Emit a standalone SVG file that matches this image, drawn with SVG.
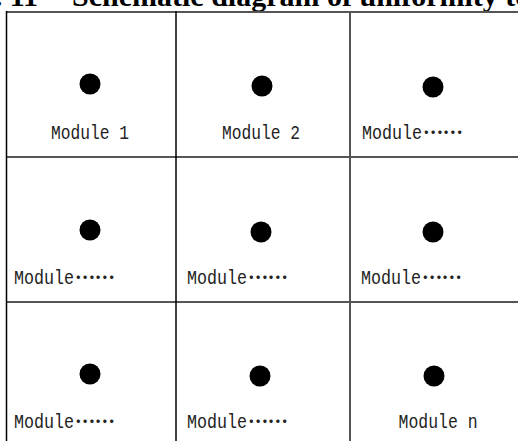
<svg xmlns="http://www.w3.org/2000/svg" width="518" height="441" viewBox="0 0 518 441">
<style>
.title{font-family:"Liberation Serif",serif;font-weight:bold;font-size:30px;fill:#000}
.lbl{font-family:"Liberation Mono",monospace;font-size:20px;fill:#222}
.c{text-anchor:middle}
.dots{font-family:"Noto Sans CJK SC",sans-serif;font-size:18px;font-weight:bold}
.dot{fill:#000}
.vb{stroke:#000;stroke-width:1.5;fill:none}
.gl{stroke:#555;stroke-width:2;fill:none}
</style>
<rect width="518" height="441" fill="#fff"/>
<text class="title" x="38" y="5.5" text-anchor="end">Fig. 11</text>
<text class="title" x="72" y="5.5">Schematic diagram of uniformity test</text>
<g id="grid">
<line class="gl" x1="6" y1="12" x2="518" y2="12"/>
<line class="gl" x1="6" y1="157" x2="518" y2="157"/>
<line class="gl" x1="6" y1="302" x2="518" y2="302"/>
<line class="vb" x1="6.5" y1="11" x2="6.5" y2="441"/>
<line class="vb" x1="176" y1="11" x2="176" y2="441"/>
<line class="gl" x1="350" y1="11" x2="350" y2="441"/>
</g>
<g id="m1"><circle class="dot" cx="90" cy="84" r="10.5"/><text class="lbl c" x="90" y="139" textLength="78" lengthAdjust="spacingAndGlyphs">Module 1</text></g>
<g id="m2"><circle class="dot" cx="262" cy="86" r="10.5"/><text class="lbl c" x="261" y="139" textLength="78" lengthAdjust="spacingAndGlyphs">Module 2</text></g>
<g id="m3"><circle class="dot" cx="433" cy="87" r="10.5"/><text class="lbl" x="362" y="139"><tspan textLength="60" lengthAdjust="spacingAndGlyphs">Module</tspan><tspan class="dots" dx="1" dy="-5">……</tspan></text></g>
<g id="m4"><circle class="dot" cx="90" cy="230" r="10.5"/><text class="lbl" x="14" y="284"><tspan textLength="60" lengthAdjust="spacingAndGlyphs">Module</tspan><tspan class="dots" dx="1" dy="-5">……</tspan></text></g>
<g id="m5"><circle class="dot" cx="261" cy="232" r="10.5"/><text class="lbl" x="187" y="284"><tspan textLength="60" lengthAdjust="spacingAndGlyphs">Module</tspan><tspan class="dots" dx="1" dy="-5">……</tspan></text></g>
<g id="m6"><circle class="dot" cx="433" cy="232" r="10.5"/><text class="lbl" x="361" y="284"><tspan textLength="60" lengthAdjust="spacingAndGlyphs">Module</tspan><tspan class="dots" dx="1" dy="-5">……</tspan></text></g>
<g id="m7"><circle class="dot" cx="90" cy="374" r="10.5"/><text class="lbl" x="14" y="428"><tspan textLength="60" lengthAdjust="spacingAndGlyphs">Module</tspan><tspan class="dots" dx="1" dy="-5">……</tspan></text></g>
<g id="m8"><circle class="dot" cx="260" cy="376" r="10.5"/><text class="lbl" x="187" y="428"><tspan textLength="60" lengthAdjust="spacingAndGlyphs">Module</tspan><tspan class="dots" dx="1" dy="-5">……</tspan></text></g>
<g id="m9"><circle class="dot" cx="434" cy="376" r="10.5"/><text class="lbl c" x="438" y="428" textLength="79" lengthAdjust="spacingAndGlyphs">Module n</text></g>
</svg>
